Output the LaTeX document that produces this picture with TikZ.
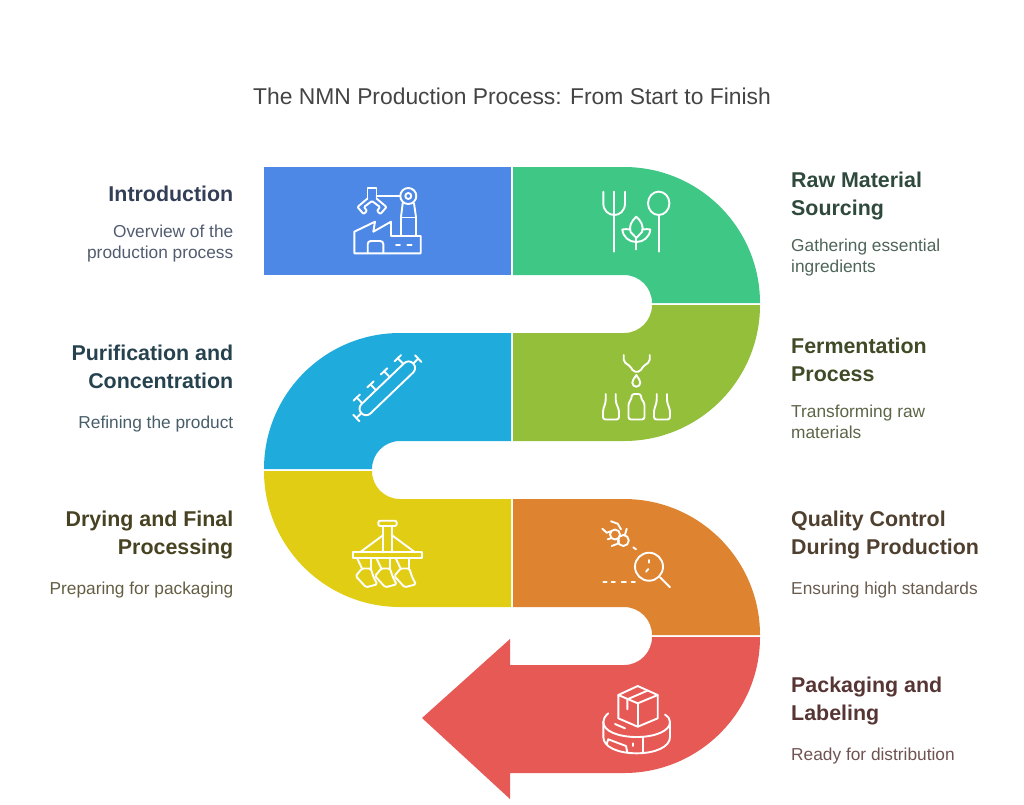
\documentclass[tikz,border=0pt]{standalone}
\usepackage{fontspec}
\setmainfont{Liberation Sans}
\usepackage{xcolor}

\definecolor{blockblue}{HTML}{4E88E7}
\definecolor{blockgreen}{HTML}{3FC786}
\definecolor{blockolive}{HTML}{94BF3B}
\definecolor{blockcyan}{HTML}{1FABDC}
\definecolor{blockyellow}{HTML}{E1CD14}
\definecolor{blockorange}{HTML}{DE8330}
\definecolor{blockred}{HTML}{E65955}
\definecolor{inktitle}{HTML}{444444}
\definecolor{inkblue}{HTML}{333F57}
\definecolor{inkgreen}{HTML}{2F4A3C}
\definecolor{inkolive}{HTML}{3F4A26}
\definecolor{inkcyan}{HTML}{26424F}
\definecolor{inkyellow}{HTML}{474222}
\definecolor{inkorange}{HTML}{4F3F2F}
\definecolor{inkred}{HTML}{563534}

\begin{document}
\begin{tikzpicture}[x=1pt,y=-1pt,
        icon/.style={draw=white,line width=1.9pt,line cap=round,line join=round},
        heading/.style={font=\fontsize{21.4}{28}\selectfont\bfseries,inner sep=0pt},
        leftblock/.style={anchor=north east,align=right},
        rightblock/.style={anchor=north west,align=left},
        blurb/.style={font=\fontsize{17.3}{21.3}\selectfont,inner sep=0pt}]
        \useasboundingbox (0,0) rectangle (1024,804);
        \node[font=\fontsize{22.85}{26}\selectfont,text=inktitle,inner sep=0pt] (title) at (512,96) {The NMN Production Process: From Start to Finish};

        % Snake of blocks
        \fill[blockblue] (264,167) rectangle (511,275);
        \fill[blockgreen] (513,167) -- (624,167) arc[start angle=90,end angle=0,radius=136pt] -- (652,303) arc[start angle=0,end angle=90,radius=28pt] -- (513,275) -- cycle;
        \fill[blockolive] (513,333) -- (624,333) arc[start angle=-90,end angle=0,radius=28pt] -- (760,305) arc[start angle=0,end angle=-90,radius=136pt] -- (513,441) -- cycle;
        \fill[blockcyan] (511,333) -- (400,333) arc[start angle=90,end angle=180,radius=136pt] -- (372,469) arc[start angle=180,end angle=90,radius=28pt] -- (511,441) -- cycle;
        \fill[blockyellow] (511,607) -- (400,607) arc[start angle=-90,end angle=-180,radius=136pt] -- (372,471) arc[start angle=180,end angle=270,radius=28pt] -- (511,499) -- cycle;
        \fill[blockorange] (513,499) -- (624,499) arc[start angle=90,end angle=0,radius=136pt] -- (652,635) arc[start angle=0,end angle=90,radius=28pt] -- (513,607) -- cycle;
        \fill[blockred] (760,637) arc[start angle=0,end angle=-90,radius=136pt] -- (510,773) -- (510,799) -- (422,718) -- (510,639) -- (510,665) -- (624,665) arc[start angle=-90,end angle=0,radius=28pt] -- cycle;

        % Factory with robot arm
        \draw[icon] (367.5,198.3) -- (367.5,188.3) -- (376.5,188.3) -- (376.5,198.3);
        \draw[icon,rounded corners=1pt] (367.5,198.5) -- (357.5,207) -- (363.5,214) -- (367,211) -- (364,207) -- (372,201) -- (380,207) -- (377,211) -- (380.5,214) -- (386.5,207) -- (376.5,198.5);
        \draw[icon] (376.5,196) -- (400.3,196);
        \draw[icon] (408.3,196) circle[radius=8pt];
        \draw[icon] (408.3,196) circle[radius=3pt];
        \draw[icon] (402.7,203.3) -- (401,217) -- (401,236);
        \draw[icon] (414,203.3) -- (416,217) -- (416,236);
        \draw[icon] (401,217.5) -- (416,217.5);
        \draw[icon] (354.3,253.3) -- (354.3,231.7) -- (375,221.7) -- (373.3,231.7) -- (391,221.7) -- (391,236) -- (420.7,236) -- (420.7,253.3) -- cycle;
        \draw[icon,rounded corners=3pt] (367.7,253.3) -- (367.7,241) -- (383.3,241) -- (383.3,253.3);
        \draw[icon] (396,245.3) -- (400,245.3);
        \draw[icon] (407.3,245.3) -- (411.7,245.3);

        % Fork, spoon and plant
        \draw[icon] (603.3,191.7) -- (603.3,203.3) .. controls (603.3,211) and (609,215) .. (614.3,215) .. controls (619.6,215) and (625,211) .. (625,203.3) -- (625,191.7);
        \draw[icon] (614.3,191.7) -- (614.3,251.7);
        \draw[icon] (658.7,203.3) ellipse[x radius=10.7pt,y radius=11.7pt];
        \draw[icon] (658.7,215) -- (658.7,251.7);
        \draw[icon] (636.3,216.7) .. controls (641,221) and (644,226) .. (642,232) -- (636.3,238) -- (630.6,232) .. controls (628.6,226) and (631.6,221) .. (636.3,216.7) -- cycle;
        \draw[icon] (636.3,238) -- (636.3,249.5);
        \draw[icon] (630,229.5) .. controls (627,229) and (625,229) .. (622.3,229.5) .. controls (623,237) and (629,242) .. (636.3,242) .. controls (643.6,242) and (649.6,237) .. (650.3,229.5) .. controls (647.6,229) and (645.6,229) .. (642.6,229.5);

        % Nozzle, drop and bottles
        \draw[icon,rounded corners=2pt] (623.7,355) -- (623.7,361.7) -- (630.7,366.7) -- (633.3,371.7) -- (640,371.7) -- (642.7,366.7) -- (649.7,361.7) -- (649.7,355);
        \draw[icon] (636.3,375) .. controls (634,379) and (632.3,380) .. (632.3,382.7) arc[start angle=180,end angle=360,radius=4pt] .. controls (640.3,380) and (638.6,379) .. (636.3,375) -- cycle;
        \draw[icon,rounded corners=2.5pt] (605.7,394) -- (605.7,402) -- (603,410) -- (603,419.5) -- (619,419.5) -- (619,410) -- (615.7,402) -- (615.7,394);
        \draw[icon,rounded corners=2.5pt] (631.7,394) -- (631.7,398.5) -- (628.5,403) -- (628.5,419.5) -- (644.5,419.5) -- (644.5,403) -- (641,398.5) -- (641,394) -- cycle;
        \draw[icon,rounded corners=2.5pt] (656.7,394) -- (656.7,402) -- (654,410) -- (654,419.5) -- (670,419.5) -- (670,410) -- (667,402) -- (667,394);

        % Purification column
        \begin{scope}[shift={(387.3,388.3)},x={(0.72pt,0.69pt)},y={(-0.69pt,0.72pt)}]
            \draw[icon,rounded corners=6.3pt] (-36,-6.5) -- (36,-6.5) -- (36,6.5) -- (-36,6.5) -- cycle;
            \draw[icon] (36,0) -- (43,0);
            \draw[icon] (43,-4.5) -- (43,4.5);
            \draw[icon] (-36,0) -- (-43,0);
            \draw[icon] (-43,-4.5) -- (-43,4.5);
            \foreach \u in {-28.5,-9.5,9.5,28.5} {
                \draw[icon] (\u,6.5) -- (\u,14.5);
                \draw[icon] (\u-4.5,14.5) -- (\u+4.5,14.5);
            }
        \end{scope}

        % Plough
        \draw[icon,rounded corners=2pt] (378.3,520.7) rectangle (396.7,526);
        \draw[icon] (383.3,526) -- (383.3,552.3);
        \draw[icon] (391.7,526) -- (391.7,552.3);
        \draw[icon] (383.3,535) -- (360,552.3);
        \draw[icon] (391.7,535) -- (415,552.3);
        \draw[icon] (353.3,552.3) rectangle (421.7,558.3);
        \foreach \dx in {0,19.3,38.6} {
            \draw[icon] (357.5+\dx,559) -- (362+\dx,568.5);
            \draw[icon] (370.7+\dx,559) -- (370.7+\dx,568.5);
            \draw[icon,rounded corners=1.5pt] (362+\dx,568.5) -- (355.7+\dx,576) -- (366+\dx,587.3) -- (377.3+\dx,584.3) -- (373.5+\dx,577) -- (370.7+\dx,568.5) -- cycle;
        }

        % Bug and magnifier
        \draw[icon] (615,534.5) circle[radius=5pt];
        \draw[icon] (623.3,540.5) circle[radius=5.5pt];
        \draw[icon] (611,521.3) -- (617.7,523.7) -- (621,529.3);
        \draw[icon] (626.7,528.7) -- (625,534.7);
        \draw[icon] (602.3,528.7) -- (606.7,532.7) -- (611,531.3);
        \draw[icon] (607.7,539.3) -- (611.7,538);
        \draw[icon] (611.7,546) -- (617.7,543.7) -- (619,540.3);
        \draw[icon] (633.3,547.3) -- (636,549.3);
        \draw[icon] (649,566.7) circle[radius=14pt];
        \draw[icon] (660,577.3) -- (670,587.3);
        \draw[icon] (649.3,560) -- (649.3,562.7);
        \draw[icon] (646,571.7) -- (648.3,569);
        \draw[icon] (603.3,582.3) -- (606.7,582.3);
        \draw[icon] (611.7,582.3) -- (615,582.3);
        \draw[icon] (621.7,582.3) -- (626,582.3);
        \draw[icon] (631.7,582.3) -- (635,582.3);

        % Box on platform
        \draw[icon] (637.7,686) -- (618.3,695) -- (637.7,703.3) -- (657.7,695) -- cycle;
        \draw[icon] (618.3,695) -- (618.3,718.3) -- (637.7,726.7) -- (657.7,718.3) -- (657.7,695);
        \draw[icon] (637.7,703.3) -- (637.7,726.7);
        \draw[icon] (627.3,709.3) -- (627.3,699.3) -- (647.3,690.7);
        \draw[icon] (608.3,713.3) .. controls (605,716) and (603.3,719) .. (603.3,722) .. controls (603.3,731) and (618,737) .. (636.7,737) .. controls (655,737) and (670,731) .. (670,722) .. controls (670,719) and (668,716) .. (665,714.5);
        \draw[icon] (603.3,722) -- (603.3,737) .. controls (603.3,747) and (618,753.3) .. (636.7,753.3) .. controls (655,753.3) and (670,747) .. (670,737) -- (670,722);
        \draw[icon] (642.7,737) -- (642.7,752.5);
        \draw[icon] (615,724) -- (625,728.3);
        \draw[icon] (606.7,744) -- (608.3,739.3) -- (626,746) -- (627.3,752.3);
        \draw[icon] (633.3,743.3) -- (633.3,746);

        % Left column
        \node[heading,leftblock,text=inkblue] (introhead) at (233.5,186) {Introduction};
        \node[blurb,leftblock,text=inkblue!85!white] (introtext) at (233.5,224.5) {Overview of the\\production process};
        \node[heading,leftblock,text=inkcyan] (purihead) at (233.5,345) {Purification and\\Concentration};
        \node[blurb,leftblock,text=inkcyan!85!white] (puritext) at (233.5,415.5) {Refining the product};
        \node[heading,leftblock,text=inkyellow] (dryhead) at (233.5,511) {Drying and Final\\Processing};
        \node[blurb,leftblock,text=inkyellow!85!white] (drytext) at (233.5,581.5) {Preparing for packaging};

        % Right column
        \node[heading,rightblock,text=inkgreen] (rawhead) at (791,172) {Raw Material\\Sourcing};
        \node[blurb,rightblock,text=inkgreen!85!white] (rawtext) at (791,238.5) {Gathering essential\\ingredients};
        \node[heading,rightblock,text=inkolive] (fermhead) at (791,338) {Fermentation\\Process};
        \node[blurb,rightblock,text=inkolive!85!white] (fermtext) at (791,404.5) {Transforming raw\\materials};
        \node[heading,rightblock,text=inkorange] (qualhead) at (791,511) {Quality Control\\During Production};
        \node[blurb,rightblock,text=inkorange!85!white] (qualtext) at (791,581.5) {Ensuring high standards};
        \node[heading,rightblock,text=inkred] (packhead) at (791,677) {Packaging and\\Labeling};
        \node[blurb,rightblock,text=inkred!85!white] (packtext) at (791,747.5) {Ready for distribution};
\end{tikzpicture}
\end{document}
